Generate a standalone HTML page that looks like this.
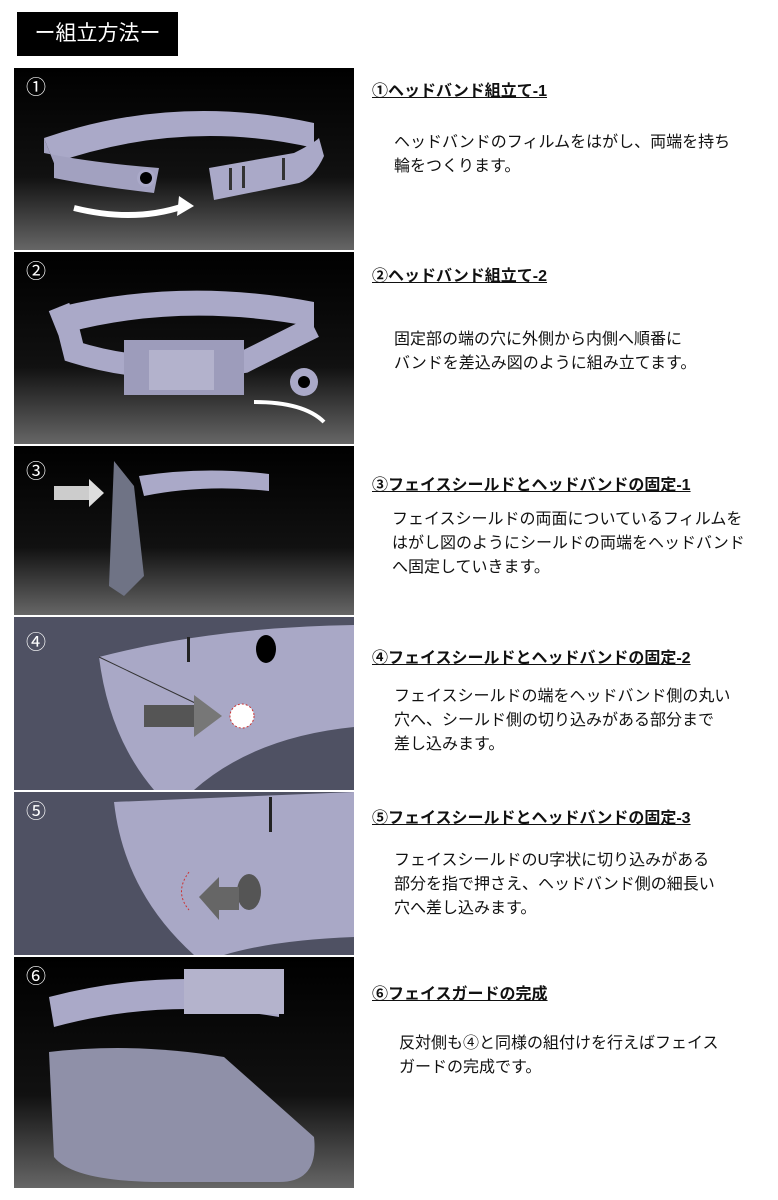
<!DOCTYPE html>
<html><head><meta charset="utf-8"><style>
body{margin:0;background:#fff;width:778px;height:1200px;position:relative;overflow:hidden;font-family:"Liberation Sans","Noto Sans CJK JP",sans-serif;}
.title{position:absolute;left:17px;top:12px;width:161px;height:44px;background:#000;color:#fff;font-size:21px;line-height:44px;text-align:center;}
.p{position:absolute;left:14px;width:340px;}
.h{position:absolute;left:372px;font-size:16px;font-weight:bold;text-decoration:underline;color:#111;}
.t{position:absolute;font-size:16px;line-height:24px;color:#111;}
</style></head><body>
<div class="title">ー組立方法ー</div>

<svg class="p" style="top:68px;height:182px" viewBox="0 0 340 182">
<defs><linearGradient id="g" x1="0" y1="0" x2="0" y2="1"><stop offset="0" stop-color="#000"/><stop offset=".6" stop-color="#111"/><stop offset="1" stop-color="#666"/></linearGradient></defs>
<rect width="340" height="182" fill="url(#g)"/>
<path d="M30 70 Q160 25 300 55 L300 80 Q170 50 40 95Z" fill="#aaa9c8"/>
<path d="M30 70 L40 95 L40 110 Q80 118 140 125 L145 100 Q80 95 30 85Z" fill="#a2a1c0"/>
<circle cx="132" cy="110" r="9" fill="#aaa9c8"/><circle cx="132" cy="110" r="6" fill="#000"/>
<path d="M195 100 L280 85 Q300 75 305 70 L310 88 Q300 110 285 115 L200 132Z" fill="#aaa9c8"/>
<rect x="215" y="100" width="3" height="22" fill="#333"/><rect x="228" y="98" width="3" height="22" fill="#333"/><rect x="268" y="90" width="3" height="22" fill="#333"/>
<path d="M60 140 Q120 155 170 138" stroke="#fff" stroke-width="6" fill="none"/><path d="M165 128 L180 138 L163 148Z" fill="#fff"/>
<text x="12" y="26" fill="#fff" font-size="20">①</text></svg>

<svg class="p" style="top:252px;height:192px" viewBox="0 0 340 192">
<rect width="340" height="192" fill="url(#g)"/>
<path d="M45 55 Q170 25 300 50 L300 75 Q170 50 55 80Z" fill="#aaa9c8"/>
<path d="M45 55 L55 80 L60 100 Q140 125 230 110 L300 75" stroke="#aaa9c8" stroke-width="22" fill="none"/>
<rect x="110" y="88" width="120" height="55" fill="#9d9cbb"/><rect x="135" y="98" width="65" height="40" fill="#b3b2cc"/>
<circle cx="290" cy="130" r="14" fill="#aaa9c8"/><circle cx="290" cy="130" r="6" fill="#000"/>
<path d="M240 150 Q290 150 310 170" stroke="#fff" stroke-width="4" fill="none"/>
<text x="12" y="26" fill="#fff" font-size="20">②</text></svg>

<svg class="p" style="top:446px;height:169px" viewBox="0 0 340 169">
<rect width="340" height="169" fill="url(#g)"/>
<path d="M100 15 L120 40 L130 130 L110 150 L95 140Z" fill="#6f7385"/>
<path d="M125 30 Q190 20 255 28 L255 45 Q190 38 130 50Z" fill="#aaa9c8"/>
<rect x="40" y="40" width="35" height="14" fill="#ccc"/><path d="M75 33 L90 47 L75 61Z" fill="#ddd"/>
<text x="12" y="32" fill="#fff" font-size="20">③</text></svg>

<svg class="p" style="top:617px;height:173px" viewBox="0 0 340 173">
<rect width="340" height="173" fill="#4f5163"/>
<path d="M85 40 Q200 10 340 8 L340 110 Q240 120 180 173 L140 173 Q95 120 85 40Z" fill="#a9a8c6"/>
<path d="M85 40 L200 95" stroke="#333" fill="none"/>
<ellipse cx="252" cy="32" rx="10" ry="14" fill="#000"/><rect x="173" y="20" width="3" height="25" fill="#222"/>
<rect x="130" y="88" width="50" height="22" fill="#555"/><path d="M180 78 L208 99 L180 120Z" fill="#777"/>
<circle cx="228" cy="99" r="12" fill="#fff" stroke="#c33" stroke-dasharray="2 2"/>
<text x="12" y="32" fill="#fff" font-size="20">④</text></svg>

<svg class="p" style="top:792px;height:163px" viewBox="0 0 340 163">
<rect width="340" height="163" fill="#4f5163"/>
<path d="M100 10 Q220 5 340 0 L340 145 Q260 148 210 163 L180 163 Q110 100 100 10Z" fill="#a9a8c6"/>
<rect x="255" y="5" width="3" height="35" fill="#222"/>
<ellipse cx="235" cy="100" rx="12" ry="18" fill="#555"/>
<path d="M185 105 L205 85 L205 95 L225 95 L225 118 L205 118 L205 128Z" fill="#666"/>
<path d="M175 80 Q160 100 175 118" stroke="#c33" fill="none" stroke-dasharray="2 2"/>
<text x="12" y="26" fill="#fff" font-size="20">⑤</text></svg>

<svg class="p" style="top:957px;height:231px" viewBox="0 0 340 231">
<rect width="340" height="231" fill="url(#g)"/>
<path d="M35 95 L40 200 Q60 225 150 225 L265 225 Q305 225 300 180 L210 100 Q120 85 35 95Z" fill="#8f90a8"/>
<path d="M35 40 Q150 10 265 30 L265 60 Q150 40 40 70Z" fill="#aaa9c8"/>
<rect x="170" y="12" width="100" height="45" fill="#b4b3cc"/>
<text x="12" y="26" fill="#fff" font-size="20">⑥</text></svg>

<div class="h" style="top:77px">①ヘッドバンド組立て-1</div>
<div class="t" style="left:394px;top:131px">ヘッドバンドのフィルムをはがし、両端を持ち<br>輪をつくります。</div>
<div class="h" style="top:262px">②ヘッドバンド組立て-2</div>
<div class="t" style="left:394px;top:328px">固定部の端の穴に外側から内側へ順番に<br>バンドを差込み図のように組み立てます。</div>
<div class="h" style="top:471px">③フェイスシールドとヘッドバンドの固定-1</div>
<div class="t" style="left:392px;top:508px">フェイスシールドの両面についているフィルムを<br>はがし図のようにシールドの両端をヘッドバンド<br>へ固定していきます。</div>
<div class="h" style="top:644px">④フェイスシールドとヘッドバンドの固定-2</div>
<div class="t" style="left:394px;top:685px">フェイスシールドの端をヘッドバンド側の丸い<br>穴へ、シールド側の切り込みがある部分まで<br>差し込みます。</div>
<div class="h" style="top:804px">⑤フェイスシールドとヘッドバンドの固定-3</div>
<div class="t" style="left:394px;top:849px">フェイスシールドのU字状に切り込みがある<br>部分を指で押さえ、ヘッドバンド側の細長い<br>穴へ差し込みます。</div>
<div class="h" style="top:980px">⑥フェイスガードの完成</div>
<div class="t" style="left:399px;top:1032px">反対側も④と同様の組付けを行えばフェイス<br>ガードの完成です。</div>
</body></html>
